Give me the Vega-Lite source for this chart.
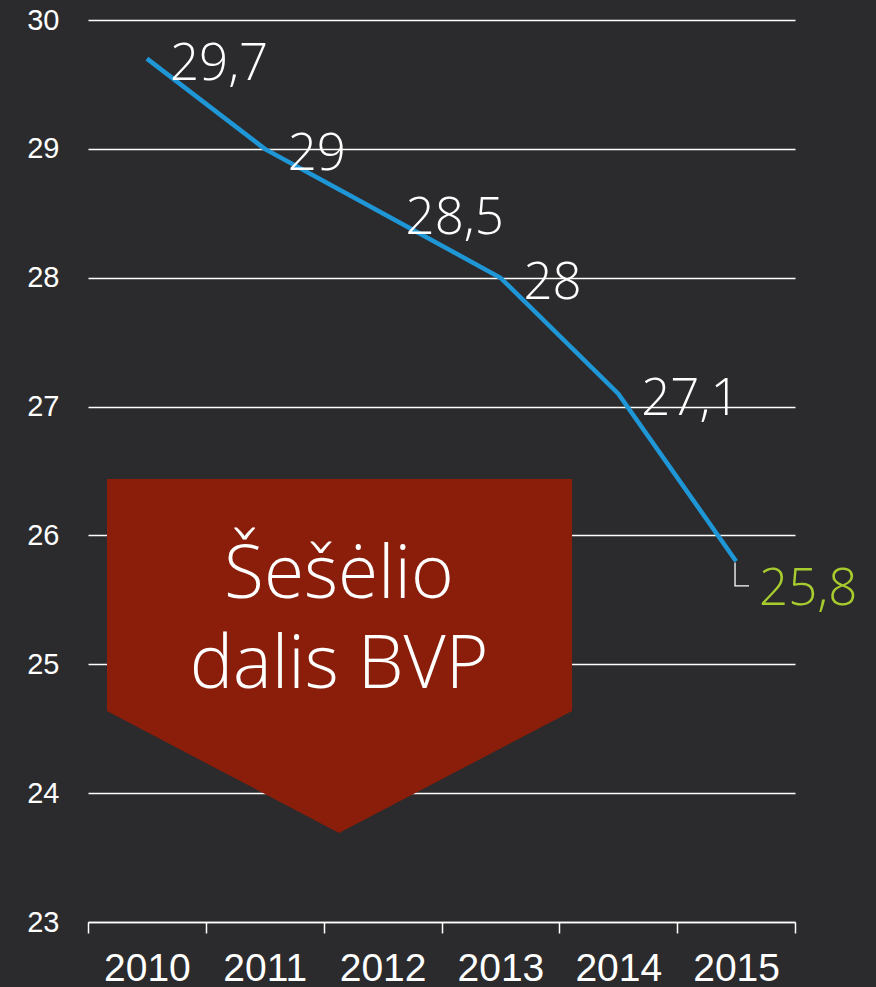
{
  "$schema": "https://vega.github.io/schema/vega-lite/v6.json",
  "width": 707,
  "height": 902,
  "autosize": {"type": "none"},
  "padding": {"left": 88, "top": 20, "right": 81, "bottom": 65},
  "background": "#2b2b2d",
  "config": {"view": {"stroke": null}},
  "datasets": {
    "series": [
      {"year": "2010", "value": 29.7, "label": "29,7"},
      {"year": "2011", "value": 29.0, "label": "29"},
      {"year": "2012", "value": 28.5, "label": "28,5"},
      {"year": "2013", "value": 28.0, "label": "28"},
      {"year": "2014", "value": 27.1, "label": "27,1"},
      {"year": "2015", "value": 25.8, "label": "25,8"}
    ],
    "arrow": [
      {"px": 0.161, "ytop": 26.438, "ybot": 24.637},
      {"px": 2.13, "ytop": 26.438, "ybot": 23.691},
      {"px": 4.108, "ytop": 26.438, "ybot": 24.637}
    ],
    "arrowText": [
      {"px": 2.13, "py": 25.514, "text": "Šešėlio"},
      {"px": 2.13, "py": 24.816, "text": "dalis BVP"}
    ],
    "leader": [
      {"lx": 5.491, "ly": 25.79, "o": 1},
      {"lx": 5.491, "ly": 25.608, "o": 2},
      {"lx": 5.61, "ly": 25.608, "o": 3}
    ]
  },
  "resolve": {"scale": {"x": "independent"}},
  "layer": [
    {
      "layer": [
        {
          "data": {"name": "arrow"},
          "mark": {"type": "area", "color": "#8a1e0a", "opacity": 1},
          "encoding": {
            "x": {"field": "px", "type": "quantitative", "scale": {"domain": [0, 6], "nice": false, "zero": false}, "axis": null},
            "y": {
              "field": "ybot",
              "type": "quantitative",
              "scale": {"domain": [23, 30], "nice": false, "zero": false},
              "axis": {
                "title": null,
                "values": [23, 24, 25, 26, 27, 28, 29, 30],
                "format": "d",
                "grid": true,
                "gridColor": "#ffffff",
                "gridWidth": 1.5,
                "domain": false,
                "ticks": false,
                "labelFont": "Liberation Sans",
                "labelFontSize": 29,
                "labelColor": "#ffffff",
                "labelPadding": 29
              }
            },
            "y2": {"field": "ytop"}
          }
        },
        {
          "data": {"name": "arrowText"},
          "mark": {"type": "text", "font": "Open Sans", "fontWeight": 300, "fontSize": 73, "color": "#ffffff", "align": "center", "baseline": "alphabetic"},
          "encoding": {
            "x": {"field": "px", "type": "quantitative"},
            "y": {"field": "py", "type": "quantitative"},
            "text": {"field": "text"}
          }
        },
        {
          "data": {"name": "leader"},
          "mark": {"type": "line", "color": "#ffffff", "strokeWidth": 1.3},
          "encoding": {
            "x": {"field": "lx", "type": "quantitative"},
            "y": {"field": "ly", "type": "quantitative"},
            "order": {"field": "o"}
          }
        }
      ]
    },
    {
      "data": {"name": "series"},
      "encoding": {
        "x": {
          "field": "year",
          "type": "ordinal",
          "scale": {"paddingInner": 0, "paddingOuter": 0},
          "axis": {
            "orient": "bottom",
            "title": null,
            "labelAngle": 0,
            "tickBand": "extent",
            "labelFont": "Liberation Sans",
            "labelFontSize": 39,
            "labelColor": "#ffffff",
            "labelPadding": 16,
            "domainColor": "#ffffff",
            "domainWidth": 1.5,
            "tickColor": "#ffffff",
            "tickWidth": 1.5,
            "tickSize": 11,
            "grid": false
          }
        },
        "y": {
          "field": "value",
          "type": "quantitative",
          "scale": {"domain": [23, 30], "nice": false, "zero": false},
          "axis": {
            "title": null,
            "values": [23, 24, 25, 26, 27, 28, 29, 30],
            "format": "d",
            "grid": true,
            "gridColor": "#ffffff",
            "gridWidth": 1.5,
            "domain": false,
            "ticks": false,
            "labelFont": "Liberation Sans",
            "labelFontSize": 29,
            "labelColor": "#ffffff",
            "labelPadding": 29
          }
        }
      },
      "layer": [
        {
          "mark": {"type": "line", "color": "#1f96d6", "strokeWidth": 4.5}
        },
        {
          "transform": [{"filter": "datum.year != '2015'"}],
          "mark": {"type": "text", "font": "Open Sans", "fontWeight": 350, "fontSize": 51, "color": "#ffffff", "align": "left", "baseline": "alphabetic", "dx": 23, "dy": 21},
          "encoding": {"text": {"field": "label"}}
        },
        {
          "transform": [{"filter": "datum.year == '2015'"}],
          "mark": {"type": "text", "font": "Open Sans", "fontWeight": 350, "fontSize": 51, "color": "#a8cc2d", "align": "left", "baseline": "alphabetic", "dx": 23, "dy": 44},
          "encoding": {"text": {"field": "label"}}
        }
      ]
    }
  ]
}
